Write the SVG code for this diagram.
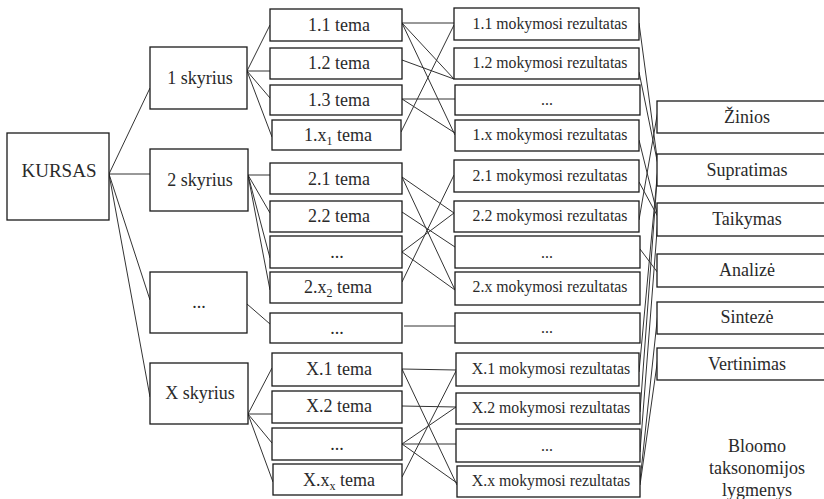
<svg xmlns="http://www.w3.org/2000/svg" width="824" height="499" viewBox="0 0 824 499">
<style>
.b{fill:#fff;stroke:#1a1a1a;stroke-width:1.3}
.t{font-family:"Liberation Serif","Times New Roman","DejaVu Serif",serif;font-size:18px;fill:#2a2a2a;text-anchor:middle}
.r{font-size:15.8px}
.c line{stroke:#333;stroke-width:1;fill:none}
</style>
<rect width="824" height="499" fill="#fff"/>
<g class="c" id="connectors">
<line x1="109" y1="174" x2="150" y2="88"/>
<line x1="109" y1="174" x2="150" y2="174"/>
<line x1="109" y1="174" x2="150" y2="300"/>
<line x1="109" y1="174" x2="150" y2="397"/>
<line x1="247" y1="71" x2="270" y2="25"/>
<line x1="247" y1="71" x2="270" y2="71"/>
<line x1="247" y1="71" x2="270" y2="98"/>
<line x1="247" y1="71" x2="272" y2="137"/>
<line x1="248" y1="175" x2="270" y2="175"/>
<line x1="248" y1="175" x2="270" y2="213"/>
<line x1="248" y1="175" x2="270" y2="258"/>
<line x1="248" y1="175" x2="270" y2="290"/>
<line x1="247" y1="304" x2="270" y2="324"/>
<line x1="248" y1="414" x2="272" y2="368"/>
<line x1="248" y1="414" x2="272" y2="414"/>
<line x1="248" y1="414" x2="272" y2="443"/>
<line x1="248" y1="414" x2="273" y2="482"/>
<line x1="402" y1="23" x2="454" y2="23"/>
<line x1="401" y1="132" x2="454" y2="25"/>
<line x1="402" y1="23" x2="454" y2="79"/>
<line x1="402" y1="60" x2="454" y2="79"/>
<line x1="402" y1="99" x2="455" y2="99"/>
<line x1="402" y1="23" x2="455" y2="135"/>
<line x1="402" y1="99" x2="455" y2="133"/>
<line x1="402" y1="177" x2="454" y2="213"/>
<line x1="402" y1="177" x2="455" y2="290"/>
<line x1="402" y1="212" x2="455" y2="247"/>
<line x1="402" y1="252" x2="454" y2="213"/>
<line x1="402" y1="252" x2="455" y2="290"/>
<line x1="402" y1="282" x2="454" y2="175"/>
<line x1="404" y1="326" x2="455" y2="326"/>
<line x1="402" y1="369" x2="456" y2="370"/>
<line x1="402" y1="369" x2="457" y2="485"/>
<line x1="402" y1="406" x2="456" y2="407"/>
<line x1="402" y1="444" x2="456" y2="407"/>
<line x1="402" y1="444" x2="456" y2="444"/>
<line x1="402" y1="444" x2="457" y2="483"/>
<line x1="402" y1="477" x2="456" y2="371"/>
<line x1="639" y1="23" x2="658" y2="165"/>
<line x1="639" y1="72" x2="658" y2="165"/>
<line x1="639" y1="140" x2="658" y2="217"/>
<line x1="639" y1="182" x2="658" y2="217"/>
<line x1="639" y1="220" x2="658" y2="110"/>
<line x1="640" y1="249" x2="658" y2="273"/>
<line x1="658" y1="167" x2="639" y2="372"/>
<line x1="658" y1="167" x2="640" y2="412"/>
<line x1="658" y1="218" x2="640" y2="452"/>
<line x1="658" y1="312" x2="640" y2="481"/>
<line x1="658" y1="357" x2="640" y2="485"/>
</g>
<g id="kursas"><rect class="b" x="7" y="133" width="102" height="87"/><text class="t" x="59" y="177" style="font-size:19px">KURSAS</text></g>
<g id="s1"><rect class="b" x="150" y="47" width="97" height="62"/><text class="t" x="200" y="84">1 skyrius</text></g>
<g id="s2"><rect class="b" x="150" y="149" width="98" height="62"/><text class="t" x="200" y="186">2 skyrius</text></g>
<g id="s3"><rect class="b" x="150" y="272" width="97" height="61"/><text class="t" x="199" y="308">...</text></g>
<g id="sx"><rect class="b" x="150" y="363" width="98" height="61"/><text class="t" x="200" y="399">X skyrius</text></g>
<g id="t11"><rect class="b" x="270" y="9" width="132" height="32"/><text class="t" x="339" y="31">1.1 tema</text></g>
<g id="t12"><rect class="b" x="270" y="48" width="132" height="31"/><text class="t" x="339" y="69">1.2 tema</text></g>
<g id="t13"><rect class="b" x="270" y="85" width="132" height="30"/><text class="t" x="339" y="106">1.3 tema</text></g>
<g id="t1x"><rect class="b" x="272" y="120" width="129" height="30"/><text class="t" x="338" y="141">1.x<tspan dy="4" font-size="12">1</tspan><tspan dy="-4"> tema</tspan></text></g>
<g id="t21"><rect class="b" x="270" y="163" width="132" height="31"/><text class="t" x="339" y="185">2.1 tema</text></g>
<g id="t22"><rect class="b" x="270" y="201" width="132" height="31"/><text class="t" x="339" y="222">2.2 tema</text></g>
<g id="t23"><rect class="b" x="270" y="236" width="132" height="32"/><text class="t" x="337" y="258">...</text></g>
<g id="t2x"><rect class="b" x="270" y="272" width="132" height="31"/><text class="t" x="338" y="293">2.x<tspan dy="4" font-size="12">2</tspan><tspan dy="-4"> tema</tspan></text></g>
<g id="t3"><rect class="b" x="270" y="313" width="132" height="30"/><text class="t" x="337" y="334">...</text></g>
<g id="tx1"><rect class="b" x="272" y="353" width="130" height="33"/><text class="t" x="339" y="375">X.1 tema</text></g>
<g id="tx2"><rect class="b" x="272" y="391" width="130" height="32"/><text class="t" x="339" y="412">X.2 tema</text></g>
<g id="tx3"><rect class="b" x="272" y="428" width="130" height="32"/><text class="t" x="337" y="450">...</text></g>
<g id="txx"><rect class="b" x="273" y="464" width="129" height="31"/><text class="t" x="339" y="486">X.x<tspan dy="4" font-size="12">x</tspan><tspan dy="-4"> tema</tspan></text></g>
<g id="r11"><rect class="b" x="454" y="8" width="185" height="32"/><text class="t r" x="550" y="29">1.1 mokymosi rezultatas</text></g>
<g id="r12"><rect class="b" x="454" y="48" width="185" height="31"/><text class="t r" x="550" y="68">1.2 mokymosi rezultatas</text></g>
<g id="r13"><rect class="b" x="455" y="85" width="185" height="30"/><text class="t r" x="547" y="105">...</text></g>
<g id="r1x"><rect class="b" x="455" y="120" width="184" height="31"/><text class="t r" x="550" y="140">1.x mokymosi rezultatas</text></g>
<g id="r21"><rect class="b" x="454" y="160" width="185" height="32"/><text class="t r" x="550" y="181">2.1 mokymosi rezultatas</text></g>
<g id="r22"><rect class="b" x="454" y="201" width="185" height="31"/><text class="t r" x="550" y="221">2.2 mokymosi rezultatas</text></g>
<g id="r23"><rect class="b" x="455" y="236" width="185" height="32"/><text class="t r" x="547" y="258">...</text></g>
<g id="r2x"><rect class="b" x="455" y="272" width="185" height="33"/><text class="t r" x="550" y="292">2.x mokymosi rezultatas</text></g>
<g id="r3"><rect class="b" x="455" y="313" width="185" height="30"/><text class="t r" x="547" y="333">...</text></g>
<g id="rx1"><rect class="b" x="456" y="353" width="183" height="33"/><text class="t r" x="551" y="374">X.1 mokymosi rezultatas</text></g>
<g id="rx2"><rect class="b" x="456" y="393" width="184" height="31"/><text class="t r" x="551" y="413">X.2 mokymosi rezultatas</text></g>
<g id="rx3"><rect class="b" x="456" y="429" width="184" height="33"/><text class="t r" x="547" y="451">...</text></g>
<g id="rxx"><rect class="b" x="457" y="466" width="183" height="31"/><text class="t r" x="551" y="486">X.x mokymosi rezultatas</text></g>
<g id="zinios"><rect class="b" x="657" y="101" width="180" height="32"/><text class="t" x="747" y="123">Žinios</text></g>
<g id="supratimas"><rect class="b" x="657" y="154" width="180" height="32"/><text class="t" x="747" y="176">Supratimas</text></g>
<g id="taikymas"><rect class="b" x="657" y="203" width="180" height="33"/><text class="t" x="747" y="225">Taikymas</text></g>
<g id="analize"><rect class="b" x="657" y="254" width="180" height="33"/><text class="t" x="747" y="276">Analizė</text></g>
<g id="sinteze"><rect class="b" x="657" y="302" width="180" height="32"/><text class="t" x="747" y="323">Sintezė</text></g>
<g id="vertinimas"><rect class="b" x="657" y="348" width="180" height="32"/><text class="t" x="747" y="370">Vertinimas</text></g>
<g id="bloom"><text class="t" x="757" y="452">Bloomo</text><text class="t" x="757" y="474">taksonomijos</text><text class="t" x="757" y="496">lygmenys</text></g>
</svg>
